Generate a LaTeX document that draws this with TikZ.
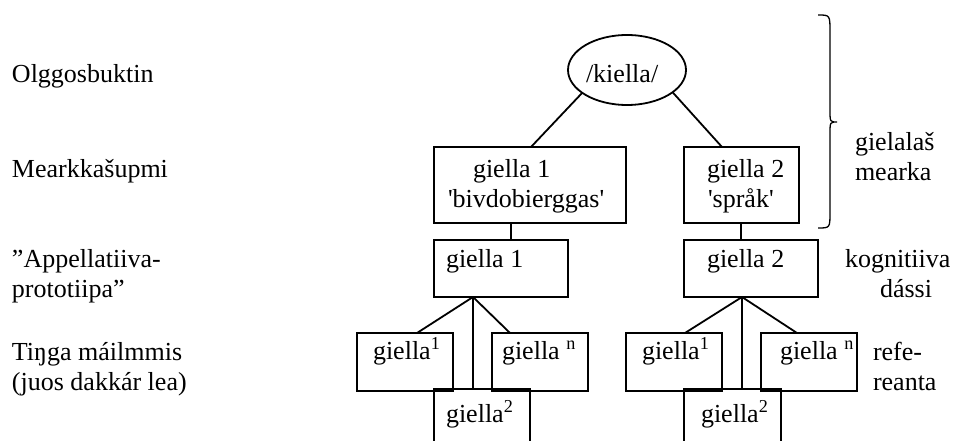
\documentclass[tikz,border=0pt]{standalone}
\usepackage{fontspec}
\setmainfont{Liberation Serif}[Ligatures=TeXOff]
\usetikzlibrary{shapes.geometric}
\tikzset{
  box/.style={draw, line width=1.8pt, rectangle, inner sep=0pt, outer sep=0pt},
  txt/.style={anchor=base west, inner sep=0pt, outer sep=0pt, font=\fontsize{26}{30}\selectfont},
  conn/.style={line width=1.8pt},
}
\begin{document}
\begin{tikzpicture}[x=1pt, y=-1pt]
\clip (0,0) rectangle (953,441);
\useasboundingbox (0,0) rectangle (953,441);

% ellipse
\node[draw, ellipse, line width=1.8pt, inner sep=0pt, outer sep=0pt, minimum width=118pt, minimum height=70pt] (ell) at (627,70) {};
\node[txt] (tk) at (586,83) {/kiella/};

% level 2
\node[box, minimum width=192pt, minimum height=76pt] (b1) at (530,185) {};
\node[box, minimum width=115pt, minimum height=76pt] (b2) at (741.5,185) {};
\node[txt] (tb1a) at (473,177) {giella 1};
\node[txt] (tb1b) at (448,207) {'bivdobierggas'};
\node[txt] (tb2a) at (707,177) {giella 2};
\node[txt] (tb2b) at (708,207) {'språk'};

% level 3
\node[box, minimum width=134pt, minimum height=57pt] (b3) at (501,268.5) {};
\node[box, minimum width=134pt, minimum height=57pt] (b4) at (751,268.5) {};
\node[txt] (tb3) at (446,267) {giella 1};
\node[txt] (tb4) at (707,267) {giella 2};

% level 4 left
\node[box, minimum width=96pt, minimum height=58pt] (c1) at (405,362) {};
\node[box, minimum width=96pt, minimum height=58pt] (cn) at (540,362) {};
\node[box, minimum width=96pt, minimum height=71pt] (c2) at (482,424.5) {};
\node[txt] (tc1) at (373,359) {giella\textsuperscript{1}};
\node[txt] (tcn) at (502,359) {giella \textsuperscript{n}};
\node[txt] (tc2) at (446,422) {giella\textsuperscript{2}};

% level 4 right
\node[box, minimum width=96pt, minimum height=58pt] (d1) at (674,362) {};
\node[box, minimum width=96pt, minimum height=58pt] (dn) at (809,362) {};
\node[box, minimum width=97pt, minimum height=71pt] (d2) at (732.5,424.5) {};
\node[txt] (td1) at (642,359) {giella\textsuperscript{1}};
\node[txt] (tdn) at (780,359) {giella \textsuperscript{n}};
\node[txt] (td2) at (701,422) {giella\textsuperscript{2}};

% connectors
\draw[conn] (ell.207) -- ([xshift=97pt]b1.north west);
\draw[conn] (ell.334) -- ([xshift=38pt]b2.north west);
\draw[conn] ([xshift=77pt]b1.south west) -- ([xshift=77pt]b3.north west);
\draw[conn] ([xshift=57pt]b2.south west) -- ([xshift=57pt]b4.north west);
\draw[conn] ([xshift=39pt]b3.south west) -- ([xshift=60pt]c1.north west);
\draw[conn] ([xshift=39pt]b3.south west) -- ([xshift=18pt]cn.north west);
\draw[conn] ([xshift=39pt]b3.south west) -- ([xshift=39pt]c2.north west);
\draw[conn] ([xshift=58pt]b4.south west) -- ([xshift=59pt]d1.north west);
\draw[conn] ([xshift=58pt]b4.south west) -- ([xshift=36pt]dn.north west);
\draw[conn] ([xshift=58pt]b4.south west) -- ([xshift=58pt]d2.north west);

% left labels
\node[txt] (l1) at (12,83) {Olggosbuktin};
\node[txt] (l2) at (12,177) {Mearkkašupmi};
\node[txt] (l3a) at (12,267) {”Appellatiiva-};
\node[txt] (l3b) at (12,297) {prototiipa”};
\node[txt] (l4a) at (12,360) {Tiŋga máilmmis};
\node[txt] (l4b) at (12,390) {(juos dakkár lea)};

% right labels
\node[txt] (r1a) at (855,150) {gielalaš};
\node[txt] (r1b) at (855,180) {mearka};
\node[txt] (r2a) at (845,267) {kognitiiva};
\node[txt] (r2b) at (880,297) {dássi};
\node[txt] (r3a) at (873,360) {refe-};
\node[txt] (r3b) at (873,390) {reanta};

% brace
\draw[line width=1.3pt] (818,15) .. controls (830,15) .. (830,32) -- (830,110)
  .. controls (830,122) .. (837,122) .. controls (830,122) .. (830,134)
  -- (830,212) .. controls (830,228) .. (818,228);
\end{tikzpicture}
\end{document}
